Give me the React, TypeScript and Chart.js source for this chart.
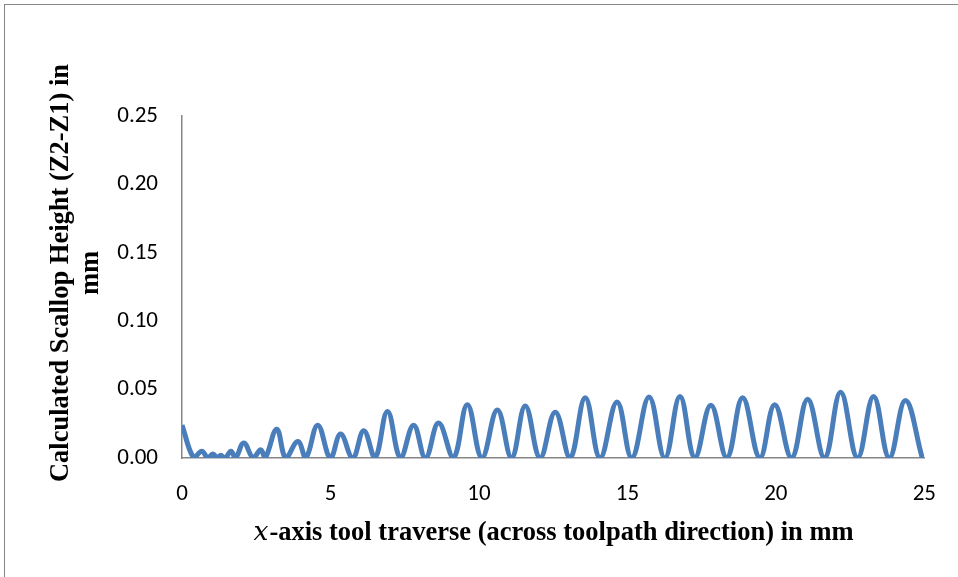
import React, { useEffect, useRef } from "react";
import { Chart, registerables } from "chart.js";

Chart.register(...registerables);

// Scallop profile across the toolpath: crest positions (mm) and heights (mm)
const startHeight = 0.024;
const crestX = [
  0.67, 1.04, 1.3, 1.65, 2.08, 2.65, 3.19, 3.9, 4.57, 5.34, 6.12, 6.92, 7.8, 8.64,
  9.61, 10.62, 11.56, 12.57, 13.58, 14.65, 15.73, 16.77, 17.81, 18.88, 19.96,
  21.07, 22.18, 23.29, 24.36,
];
const crestHeight = [
  0.005, 0.003, 0.002, 0.005, 0.011, 0.006, 0.021, 0.012, 0.024, 0.0175, 0.02,
  0.034, 0.024, 0.0255, 0.039, 0.035, 0.038, 0.0335, 0.044, 0.041, 0.0445, 0.045,
  0.0385, 0.044, 0.039, 0.043, 0.048, 0.045, 0.042,
];
// Troughs (zero height) before each crest, plus the final end point
const troughX = [
  0.4, 0.87, 1.2, 1.45, 1.8, 2.4, 2.8, 3.5, 4.17, 5.0, 5.75, 6.5, 7.36, 8.2, 9.14,
  10.1, 11.1, 12.06, 13.07, 14.08, 15.15, 16.26, 17.27, 18.35, 19.46, 20.53,
  21.64, 22.75, 23.82, 24.93,
];

const xTicks = [0, 5, 10, 15, 20, 25];
const yTicks = [0, 0.05, 0.1, 0.15, 0.2, 0.25];

const yTitleLines = ["Calculated Scallop Height (Z2-Z1) in", "mm"];
const xTitleVar = "x";
const xTitleRest = "-axis tool traverse (across toolpath direction) in mm";

function buildProfile() {
  const pts: { x: number; y: number }[] = [{ x: 0, y: startHeight }];
  for (let i = 0; i < troughX.length; i++) {
    pts.push({ x: troughX[i], y: 0 });
    if (i < crestX.length) pts.push({ x: crestX[i], y: crestHeight[i] });
  }
  return pts;
}

const titlePlugin = {
  id: "axisTitles",
  afterDraw(chart: any) {
    const ctx = chart.ctx as CanvasRenderingContext2D;
    ctx.save();
    ctx.fillStyle = "#000";
    // x-axis title with an italic variable name
    const boldFont = "bold 26.5px 'Liberation Serif', 'Times New Roman', serif";
    const italicFont = "italic 26.5px 'DejaVu Serif', 'Liberation Serif', serif";
    ctx.font = italicFont;
    const wVar = ctx.measureText(xTitleVar).width;
    ctx.font = boldFont;
    const wRest = ctx.measureText(xTitleRest).width;
    const cx = 553;
    const ty = 533;
    const startX = cx - (wVar + wRest) / 2;
    ctx.textBaseline = "middle";
    ctx.textAlign = "left";
    ctx.font = italicFont;
    ctx.fillText(xTitleVar, startX, ty);
    ctx.font = boldFont;
    ctx.fillText(xTitleRest, startX + wVar + 1, ty);

    // y-axis title, two rotated lines
    ctx.translate(0, 273);
    ctx.rotate(-Math.PI / 2);
    ctx.textAlign = "center";
    ctx.font = boldFont;
    ctx.fillText(yTitleLines[0], 0, 61);
    ctx.fillText(yTitleLines[1], 0, 91);
    ctx.restore();
  },
};

export default function App() {
  const canvasRef = useRef<HTMLCanvasElement | null>(null);

  useEffect(() => {
    const canvas = canvasRef.current;
    if (!canvas) return;
    const tickFont = { family: "Carlito, Calibri, Lato, sans-serif", size: 23 };
    const chart = new Chart(canvas, {
      type: "line",
      data: {
        datasets: [
          {
            data: buildProfile(),
            borderColor: "#4a7ebb",
            borderWidth: 5,
            pointRadius: 0,
            tension: 0.4,
            fill: false,
          },
        ],
      },
      options: {
        responsive: false,
        animation: false,
        layout: { padding: { left: 0, top: 116, right: 33, bottom: 0 } },
        plugins: {
          legend: { display: false },
          tooltip: { enabled: false },
        },
        scales: {
          x: {
            type: "linear",
            min: 0,
            max: 25,
            afterBuildTicks: (scale: any) => {
              scale.ticks = xTicks.map((v) => ({ value: v }));
            },
            afterFit: (scale: any) => {
              scale.height = 577 - 458;
            },
            grid: { color: "rgba(0,0,0,0)", drawTicks: false },
            border: { display: true, color: "#868686", width: 1.5 },
            ticks: {
              color: "#000",
              font: tickFont,
              padding: 22,
              maxRotation: 0,
              autoSkip: false,
              callback: (v: any) => String(v),
            },
          },
          y: {
            type: "linear",
            min: 0,
            max: 0.25,
            afterBuildTicks: (scale: any) => {
              scale.ticks = yTicks.map((v) => ({ value: v }));
            },
            afterFit: (scale: any) => {
              scale.width = 182;
            },
            grid: { color: "rgba(0,0,0,0)", drawTicks: false },
            border: { display: true, color: "#868686", width: 1.5 },
            ticks: {
              color: "#000",
              font: tickFont,
              padding: 24,
              autoSkip: false,
              callback: (v: any) => Number(v).toFixed(2),
            },
          },
        },
      },
      plugins: [titlePlugin],
    });
    return () => chart.destroy();
  }, []);

  return (
    <div
      style={{
        position: "fixed",
        left: 0,
        top: 0,
        width: 958,
        height: 577,
        background: "#fff",
        overflow: "hidden",
      }}
    >
      <div
        style={{
          position: "absolute",
          left: 4,
          top: 4,
          width: 980,
          height: 600,
          borderLeft: "1.5px solid #868686",
          borderTop: "1.5px solid #868686",
        }}
      />
      <canvas
        ref={canvasRef}
        width={958}
        height={577}
        style={{ position: "absolute", left: 0, top: 0 }}
      />
    </div>
  );
}
